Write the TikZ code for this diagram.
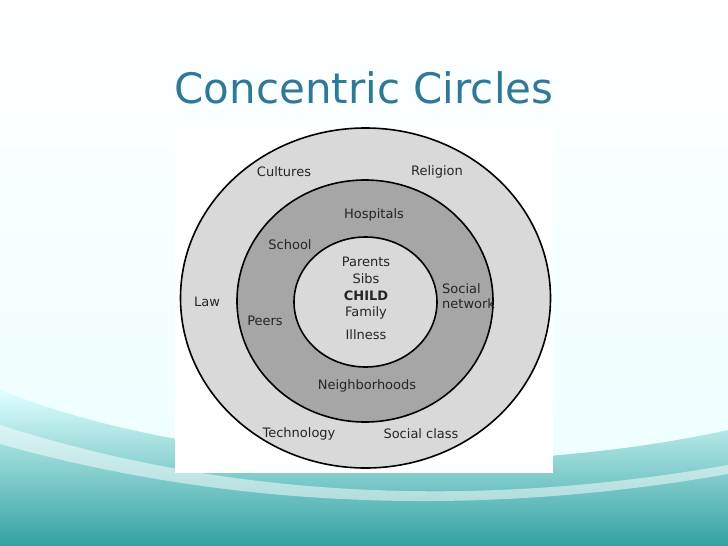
\documentclass[tikz,border=0pt]{standalone}
\usepackage{fontspec}
\setmainfont{DejaVu Sans}
\begin{document}
\begin{tikzpicture}[x=1pt,y=-1pt,
  lab/.style={font=\fontsize{13}{14}\selectfont, inner sep=0pt, text=black!85}]
\useasboundingbox (0,0) rectangle (728,546);
\shade[top color=white, bottom color=cyan!8!white] (0,0) rectangle (728,546);
\shade[top color=cyan!12!white, bottom color=cyan!55!teal!70!black!80]
  (0,390) .. controls (200,470) and (500,480) .. (728,430) -- (728,546) -- (0,546) -- cycle;
\fill[white, opacity=0.5] (0,425) .. controls (250,505) and (500,505) .. (728,465) -- (728,474) .. controls (500,514) and (250,514) .. (0,444) -- cycle;
\node[font=\fontsize{42}{46}\selectfont, text={rgb,255:red,46;green,122;blue,150}] (title) at (364,88) {Concentric Circles};
\fill[white] (175,128) rectangle (553,473);
\draw[line width=1.6pt, fill=black!15] (365.5,298) ellipse [x radius=185, y radius=170];
\draw[line width=1.6pt, fill=black!35] (365,301) ellipse [x radius=128, y radius=121];
\draw[line width=1.6pt, fill=black!15] (365.5,302) ellipse [x radius=71.5, y radius=65];
\node[lab] (cul) at (284,172) {Cultures};
\node[lab] (rel) at (437,172) {Religion};
\node[lab] (hos) at (374,215) {Hospitals};
\node[lab] (sch) at (290,245) {School};
\node[lab] (par) at (366,262) {Parents};
\node[lab] (sib) at (366,279) {Sibs};
\node[lab, font=\fontsize{13}{14}\selectfont\bfseries] (chi) at (366,296) {CHILD};
\node[lab] (fam) at (366,313) {Family};
\node[lab] (ill) at (366,335) {Illness};
\node[lab, align=left, anchor=west] (soc) at (442,296) {Social\\[1pt]network};
\node[lab] (law) at (207,302) {Law};
\node[lab] (pee) at (265,321) {Peers};
\node[lab] (nei) at (367,386) {Neighborhoods};
\node[lab] (tec) at (299,434) {Technology};
\node[lab] (scl) at (421,434) {Social class};
\end{tikzpicture}
\end{document}
